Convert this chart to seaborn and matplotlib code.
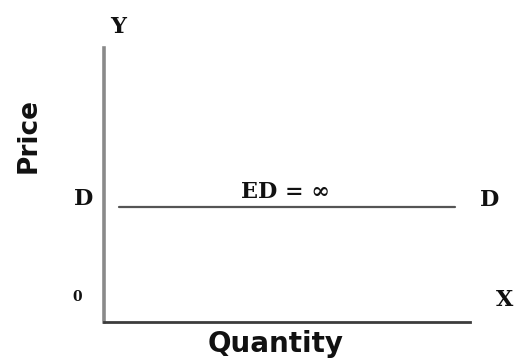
import matplotlib
matplotlib.use("Agg")
import matplotlib.pyplot as plt
import seaborn as sns
import pandas as pd

sns.set_theme(style="white")
plt.rcParams["font.family"] = ["DejaVu Sans"]

# Perfectly elastic demand: constant price over the quantity range
quantity = [0.4, 9.6]
price = [4.2, 4.2]
curve_label = "ED = \u221e"
axis_names = ["Quantity", "Price"]
axis_letters = ["X", "Y"]

df = pd.DataFrame({"Quantity": quantity, "Price": price})

fig = plt.figure(figsize=(5.22, 3.6), dpi=100)
ax = fig.add_axes([0.199, 0.106, 0.701, 0.761])

sns.lineplot(data=df, x="Quantity", y="Price", ax=ax, color="#555555", linewidth=1.6)

ax.set_xlim(0, 10)
ax.set_ylim(0, 10)
ax.set_xticks([])
ax.set_yticks([])
ax.set_xlabel("")
ax.set_ylabel("")
for side in ["top", "right"]:
    ax.spines[side].set_visible(False)
ax.spines["left"].set_color("#8a8a8a")
ax.spines["left"].set_linewidth(2.6)
ax.spines["bottom"].set_color("#3c3c3c")
ax.spines["bottom"].set_linewidth(2.0)

serif = dict(family="DejaVu Serif", fontweight="bold", color="#111111")

# axis letters and origin
ax.text(0.38, 10.75, axis_letters[1], fontsize=16, ha="center", va="center", **serif)
ax.text(10.95, 0.8, axis_letters[0], fontsize=16, ha="center", va="center", **serif)
ax.text(-0.73, 0.9, "0", fontsize=10, ha="center", va="center", **serif)

# curve end labels and elasticity note
ax.text(-0.55, 4.5, "D", fontsize=16, ha="center", va="center", **serif)
ax.text(10.55, 4.45, "D", fontsize=16, ha="center", va="center", **serif)
ax.text(4.95, 4.75, curve_label, fontsize=16, ha="center", va="center", **serif)

# axis titles
ax.text(4.68, -0.82, axis_names[0], fontsize=20, ha="center", va="center",
        color="#111111", fontweight="bold")
ax.text(-2.05, 6.8, axis_names[1], fontsize=19, ha="center", va="center",
        rotation=90, color="#111111", fontweight="bold")

fig.savefig("out.png", dpi=100)
